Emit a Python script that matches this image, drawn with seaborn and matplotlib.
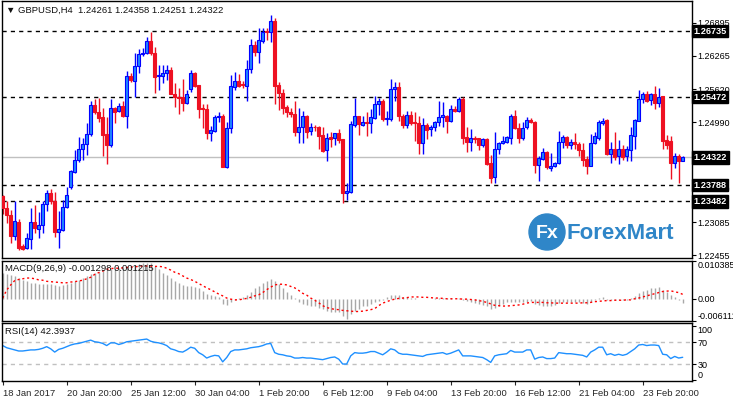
import matplotlib
matplotlib.use("Agg")
import numpy as np
import pandas as pd
import matplotlib.pyplot as plt
import matplotlib.transforms as mtransforms
from matplotlib.patches import Ellipse
import seaborn as sns

# GBPUSD H4 candles
opens = [
    1.2359, 1.2335, 1.2322, 1.2282, 1.2309, 1.2262, 1.2260, 1.2277, 1.2308, 1.2296,
    1.2303, 1.2343, 1.2364, 1.2348, 1.2290, 1.2293, 1.2337, 1.2376, 1.2405, 1.2427,
    1.2449, 1.2457, 1.2476, 1.2533, 1.2518, 1.2509, 1.2477, 1.2456, 1.2527, 1.2521,
    1.2530, 1.2512, 1.2588, 1.2579, 1.2607, 1.2629, 1.2631, 1.2654, 1.2631, 1.2587,
    1.2588, 1.2593, 1.2599, 1.2554, 1.2547, 1.2547, 1.2537, 1.2563, 1.2594, 1.2570,
    1.2526, 1.2525, 1.2478, 1.2482, 1.2509, 1.2511, 1.2414, 1.2488, 1.2567, 1.2578,
    1.2572, 1.2568, 1.2602, 1.2647, 1.2634, 1.2655, 1.2674, 1.2672, 1.2693, 1.2570,
    1.2556, 1.2529, 1.2519, 1.2516, 1.2481, 1.2490, 1.2511, 1.2483, 1.2491, 1.2491,
    1.2475, 1.2446, 1.2471, 1.2470, 1.2478, 1.2467, 1.2365, 1.2367, 1.2494, 1.2511,
    1.2494, 1.2500, 1.2497, 1.2508, 1.2535, 1.2540, 1.2506, 1.2506, 1.2562, 1.2566,
    1.2512, 1.2495, 1.2514, 1.2500, 1.2497, 1.2460, 1.2494, 1.2486, 1.2490, 1.2499,
    1.2510, 1.2512, 1.2502, 1.2525, 1.2520, 1.2543, 1.2472, 1.2462, 1.2470, 1.2469,
    1.2455, 1.2467, 1.2421, 1.2394, 1.2449, 1.2459, 1.2462, 1.2470, 1.2512, 1.2489,
    1.2470, 1.2490, 1.2504, 1.2500, 1.2417, 1.2430, 1.2442, 1.2411, 1.2415, 1.2421,
    1.2461, 1.2471, 1.2455, 1.2462, 1.2458, 1.2446, 1.2430, 1.2416, 1.2459, 1.2469,
    1.2498, 1.2504, 1.2439, 1.2448, 1.2434, 1.2448, 1.2434, 1.2446, 1.2474, 1.2502,
    1.2544, 1.2554, 1.2541, 1.2553, 1.2537, 1.2549, 1.2465, 1.2463, 1.2422, 1.2435,
    1.24261,
]
highs = [
    1.2360, 1.2348, 1.2332, 1.2348, 1.2314, 1.2266, 1.2288, 1.2335, 1.2341, 1.2327,
    1.2348, 1.2370, 1.2371, 1.2367, 1.2329, 1.2350, 1.2376, 1.2408, 1.2446, 1.2472,
    1.2470, 1.2497, 1.2540, 1.2543, 1.2545, 1.2526, 1.2510, 1.2543, 1.2529, 1.2537,
    1.2540, 1.2597, 1.2593, 1.2631, 1.2639, 1.2642, 1.2663, 1.2671, 1.2644, 1.2609,
    1.2609, 1.2609, 1.2604, 1.2575, 1.2564, 1.2582, 1.2561, 1.2599, 1.2595, 1.2571,
    1.2534, 1.2535, 1.2492, 1.2513, 1.2519, 1.2515, 1.2500, 1.2590, 1.2596, 1.2591,
    1.2579, 1.2619, 1.2658, 1.2655, 1.2679, 1.2679, 1.2679, 1.2704, 1.2698, 1.2577,
    1.2563, 1.2533, 1.2526, 1.2539, 1.2526, 1.2521, 1.2513, 1.2497, 1.2494, 1.2492,
    1.2490, 1.2478, 1.2481, 1.2479, 1.2486, 1.2468, 1.2384, 1.2502, 1.2546, 1.2512,
    1.2511, 1.2519, 1.2525, 1.2549, 1.2545, 1.2543, 1.2521, 1.2582, 1.2577, 1.2577,
    1.2516, 1.2521, 1.2521, 1.2519, 1.2511, 1.2507, 1.2498, 1.2494, 1.2502, 1.2540,
    1.2538, 1.2513, 1.2532, 1.2530, 1.2547, 1.2547, 1.2491, 1.2486, 1.2474, 1.2470,
    1.2470, 1.2469, 1.2437, 1.2480, 1.2462, 1.2473, 1.2473, 1.2516, 1.2523, 1.2497,
    1.2500, 1.2510, 1.2507, 1.2501, 1.2434, 1.2451, 1.2444, 1.2441, 1.2424, 1.2483,
    1.2475, 1.2473, 1.2467, 1.2479, 1.2462, 1.2459, 1.2434, 1.2477, 1.2480, 1.2504,
    1.2507, 1.2505, 1.2462, 1.2480, 1.2465, 1.2456, 1.2454, 1.2491, 1.2505, 1.2561,
    1.2558, 1.2559, 1.2556, 1.2568, 1.2565, 1.2550, 1.2475, 1.2473, 1.2440, 1.2439,
    1.24358,
]
lows = [
    1.2324, 1.2306, 1.2268, 1.2274, 1.2255, 1.2255, 1.2257, 1.2257, 1.2288, 1.2278,
    1.2288, 1.2329, 1.2344, 1.2281, 1.2260, 1.2292, 1.2335, 1.2371, 1.2402, 1.2424,
    1.2427, 1.2437, 1.2474, 1.2516, 1.2500, 1.2435, 1.2419, 1.2453, 1.2497, 1.2518,
    1.2509, 1.2489, 1.2577, 1.2547, 1.2593, 1.2625, 1.2629, 1.2628, 1.2556, 1.2561,
    1.2575, 1.2580, 1.2553, 1.2529, 1.2516, 1.2521, 1.2534, 1.2558, 1.2567, 1.2508,
    1.2489, 1.2467, 1.2464, 1.2481, 1.2500, 1.2413, 1.2411, 1.2478, 1.2561, 1.2567,
    1.2564, 1.2540, 1.2593, 1.2625, 1.2612, 1.2651, 1.2656, 1.2653, 1.2535, 1.2523,
    1.2516, 1.2510, 1.2510, 1.2473, 1.2459, 1.2459, 1.2470, 1.2475, 1.2483, 1.2449,
    1.2443, 1.2426, 1.2453, 1.2456, 1.2459, 1.2346, 1.2350, 1.2365, 1.2491, 1.2475,
    1.2492, 1.2474, 1.2479, 1.2506, 1.2513, 1.2501, 1.2495, 1.2501, 1.2540, 1.2502,
    1.2489, 1.2489, 1.2494, 1.2464, 1.2439, 1.2439, 1.2467, 1.2473, 1.2483, 1.2492,
    1.2490, 1.2479, 1.2500, 1.2519, 1.2518, 1.2458, 1.2443, 1.2445, 1.2460, 1.2446,
    1.2453, 1.2418, 1.2383, 1.2384, 1.2439, 1.2457, 1.2459, 1.2458, 1.2486, 1.2459,
    1.2465, 1.2487, 1.2497, 1.2402, 1.2388, 1.2428, 1.2410, 1.2407, 1.2413, 1.2420,
    1.2451, 1.2451, 1.2448, 1.2448, 1.2434, 1.2416, 1.2400, 1.2415, 1.2457, 1.2465,
    1.2494, 1.2436, 1.2421, 1.2428, 1.2420, 1.2428, 1.2426, 1.2426, 1.2448, 1.2501,
    1.2537, 1.2538, 1.2533, 1.2524, 1.2529, 1.2448, 1.2449, 1.2391, 1.2411, 1.2384,
    1.24251,
]
closes = [
    1.2335, 1.2322, 1.2282, 1.2311, 1.2260, 1.2258, 1.2278, 1.2308, 1.2297, 1.2303,
    1.2343, 1.2364, 1.2348, 1.2290, 1.2295, 1.2337, 1.2360, 1.2406, 1.2427, 1.2449,
    1.2458, 1.2476, 1.2533, 1.2518, 1.2507, 1.2475, 1.2456, 1.2526, 1.2519, 1.2530,
    1.2512, 1.2588, 1.2580, 1.2607, 1.2629, 1.2631, 1.2654, 1.2631, 1.2586, 1.2589,
    1.2593, 1.2599, 1.2554, 1.2547, 1.2545, 1.2537, 1.2553, 1.2594, 1.2568, 1.2525,
    1.2524, 1.2478, 1.2484, 1.2510, 1.2511, 1.2414, 1.2488, 1.2568, 1.2578, 1.2568,
    1.2570, 1.2602, 1.2647, 1.2634, 1.2656, 1.2672, 1.2671, 1.2693, 1.2569, 1.2556,
    1.2527, 1.2518, 1.2516, 1.2481, 1.2490, 1.2511, 1.2481, 1.2491, 1.2490, 1.2473,
    1.2444, 1.2470, 1.2468, 1.2478, 1.2465, 1.2365, 1.2368, 1.2496, 1.2511, 1.2496,
    1.2500, 1.2497, 1.2509, 1.2535, 1.2540, 1.2506, 1.2507, 1.2563, 1.2566, 1.2511,
    1.2494, 1.2514, 1.2497, 1.2497, 1.2460, 1.2494, 1.2484, 1.2491, 1.2499, 1.2509,
    1.2513, 1.2502, 1.2525, 1.2520, 1.2543, 1.2470, 1.2462, 1.2469, 1.2467, 1.2455,
    1.2467, 1.2420, 1.2393, 1.2449, 1.2459, 1.2463, 1.2471, 1.2511, 1.2488, 1.2470,
    1.2489, 1.2504, 1.2499, 1.2417, 1.2431, 1.2442, 1.2413, 1.2416, 1.2421, 1.2461,
    1.2471, 1.2456, 1.2462, 1.2457, 1.2446, 1.2428, 1.2416, 1.2460, 1.2473, 1.2500,
    1.2502, 1.2439, 1.2448, 1.2433, 1.2448, 1.2433, 1.2448, 1.2475, 1.2504, 1.2544,
    1.2554, 1.2540, 1.2553, 1.2537, 1.2547, 1.2464, 1.2456, 1.2422, 1.2435, 1.2426,
    1.24322,
]

macd_main = [
    0.0070, 0.0067, 0.0065, 0.0062, 0.0057, 0.0052, 0.0048, 0.0043, 0.0043, 0.0041,
    0.0041, 0.0041, 0.0040, 0.0038, 0.0036, 0.0038, 0.0040, 0.0043, 0.0048, 0.0052,
    0.0057, 0.0062, 0.0067, 0.0071, 0.0074, 0.0076, 0.0078, 0.0081, 0.0083, 0.0084,
    0.0084, 0.0088, 0.0091, 0.0093, 0.0095, 0.0097, 0.0098, 0.0097, 0.0091, 0.0081,
    0.0071, 0.0065, 0.0057, 0.0050, 0.0043, 0.0038, 0.0036, 0.0036, 0.0033, 0.0029,
    0.0021, 0.0014, 0.0010, 0.0008, 0.0006, -0.0014, -0.0017, -0.0010, -0.0003, 0.0002,
    0.0005, 0.0011, 0.0019, 0.0029, 0.0035, 0.0043, 0.0050, 0.0055, 0.0050, 0.0040,
    0.0030, 0.0019, 0.0010, 0.0002, -0.0010, -0.0014, -0.0017, -0.0019, -0.0021, -0.0024,
    -0.0029, -0.0033, -0.0035, -0.0036, -0.0036, -0.0048, -0.0055, -0.0043, -0.0033, -0.0027,
    -0.0021, -0.0019, -0.0014, -0.0010, -0.0005, -0.0003, 0.0005, 0.0010, 0.0011, 0.0010,
    0.0006, 0.0004, 0.0003, 0.0002, 0.0000, 0.0000, 0.0000, 0.0000, 0.0001, 0.0002,
    0.0003, 0.0002, 0.0001, 0.0000, 0.0002, -0.0002, -0.0006, -0.0010, -0.0011, -0.0014,
    -0.0017, -0.0019, -0.0027, -0.0024, -0.0019, -0.0014, -0.0010, -0.0008, -0.0008, -0.0010,
    -0.0010, -0.0008, -0.0006, -0.0014, -0.0017, -0.0019, -0.0019, -0.0019, -0.0017, -0.0011,
    -0.0010, -0.0010, -0.0010, -0.0010, -0.0010, -0.0011, -0.0014, -0.0008, -0.0002, 0.0002,
    0.0005, -0.0002, -0.0004, -0.0004, -0.0003, -0.0002, -0.0002, 0.0002, 0.0008, 0.0017,
    0.0021, 0.0024, 0.0029, 0.0030, 0.0032, 0.0024, 0.0019, 0.0011, 0.0005, -0.0002,
    -0.001298,
]
macd_signal = [
    0.0002, 0.0024, 0.0038, 0.0050, 0.0053, 0.0055, 0.0057, 0.0057, 0.0055, 0.0052,
    0.0051, 0.0048, 0.0047, 0.0046, 0.0045, 0.0044, 0.0044, 0.0046, 0.0047, 0.0049,
    0.0051, 0.0055, 0.0059, 0.0067, 0.0072, 0.0076, 0.0081, 0.0083, 0.0084, 0.0084,
    0.0085, 0.0086, 0.0087, 0.0088, 0.0089, 0.0090, 0.0090, 0.0090, 0.0089, 0.0089,
    0.0088, 0.0084, 0.0079, 0.0073, 0.0069, 0.0063, 0.0057, 0.0053, 0.0048, 0.0042,
    0.0036, 0.0030, 0.0025, 0.0019, 0.0013, 0.0008, 0.0002, -0.0001, -0.0003, -0.0003,
    -0.0001, 0.0001, 0.0004, 0.0008, 0.0011, 0.0017, 0.0025, 0.0032, 0.0038, 0.0040,
    0.0040, 0.0038, 0.0034, 0.0030, 0.0023, 0.0015, 0.0010, 0.0002, -0.0004, -0.0011,
    -0.0019, -0.0024, -0.0027, -0.0029, -0.0030, -0.0032, -0.0033, -0.0034, -0.0035, -0.0035,
    -0.0034, -0.0032, -0.0030, -0.0027, -0.0019, -0.0012, -0.0008, -0.0004, -0.0001, 0.0001,
    0.0002, 0.0003, 0.0005, 0.0005, 0.0005, 0.0004, 0.0004, 0.0003, 0.0002, 0.0002,
    0.0001, 0.0000, 0.0000, 0.0000, 0.0000, -0.0001, -0.0001, -0.0002, -0.0003, -0.0005,
    -0.0007, -0.0010, -0.0014, -0.0018, -0.0019, -0.0020, -0.0020, -0.0019, -0.0018, -0.0017,
    -0.0015, -0.0012, -0.0010, -0.0010, -0.0010, -0.0010, -0.0011, -0.0011, -0.0012, -0.0012,
    -0.0012, -0.0012, -0.0012, -0.0012, -0.0012, -0.0011, -0.0011, -0.0010, -0.0008, -0.0007,
    -0.0006, -0.0005, -0.0005, -0.0004, -0.0004, -0.0004, -0.0003, -0.0003, 0.0000, 0.0002,
    0.0005, 0.0008, 0.0011, 0.0014, 0.0017, 0.0020, 0.0021, 0.0022, 0.0019, 0.0017,
    0.001215,
]
rsi = [
    64, 60, 58, 56, 54, 54, 55, 56, 56, 57,
    59, 62, 58, 52, 57, 59, 62, 65, 67, 68,
    70, 72, 74, 71, 70, 68, 64, 69, 69, 66,
    68, 71, 72, 73, 74, 75, 76, 72, 70, 69,
    67, 64, 58, 56, 53, 52, 56, 61, 59, 51,
    47, 41, 44, 46, 45, 34, 42, 53, 56, 56,
    57, 58, 60, 61, 62, 64, 67, 68, 51, 48,
    47, 45, 44, 41, 41, 42, 41, 41, 40, 39,
    38, 40, 42, 43, 39, 30, 30, 45, 51, 50,
    50, 51, 53, 53, 50, 47, 52, 58, 56, 50,
    48, 48, 47, 46, 45, 44, 47, 48, 49, 50,
    51, 48, 50, 53, 56, 45, 45, 45, 44, 43,
    42, 38, 33, 45, 47, 48, 49, 55, 52, 52,
    52, 56, 56, 39, 42, 43, 40, 40, 41, 51,
    50, 49, 49, 48, 47, 46, 43, 52, 56, 61,
    61, 47, 49, 46, 48, 46, 48, 53, 58, 65,
    66, 64, 65, 65, 64, 48, 47, 40, 44, 41,
    42.3937,
]

date_labels = ["18 Jan 2017", "20 Jan 20:00", "25 Jan 12:00", "30 Jan 04:00",
               "1 Feb 20:00", "6 Feb 12:00", "9 Feb 04:00", "13 Feb 20:00",
               "16 Feb 12:00", "21 Feb 04:00", "23 Feb 20:00"]
bars_per_label = 16
level_lines = [1.26735, 1.25472, 1.23788, 1.23482]
last_price = 1.24322
price_ticks = [1.26895, 1.26265, 1.25620, 1.24990, 1.23720, 1.23085, 1.22455]

df = pd.DataFrame({"open": opens, "high": highs, "low": lows, "close": closes,
                   "macd": macd_main, "signal": macd_signal, "rsi": rsi})
df["bar"] = np.arange(len(df))
df["up"] = df["close"] >= df["open"]

sns.set_style("white")
plt.rcParams["font.family"] = ["Liberation Sans", "DejaVu Sans"]
plt.rcParams["font.size"] = 6.6

W, H = 733, 398
fig = plt.figure(figsize=(W / 100, H / 100), dpi=100)


def box(x0, y0, x1, y1):
    return [x0 / W, 1 - y1 / H, (x1 - x0) / W, (y1 - y0) / H]


ax = fig.add_axes(box(1.5, 1, 691.5, 258))
ax_m = fig.add_axes(box(1.5, 261, 691.5, 321))
ax_r = fig.add_axes(box(1.5, 323, 691.5, 381))

RED = "#ee1122"
BLUE_EDGE = "#0000ff"
BLUE_FILL = "#1e88ff"

# candles
for up, wick, face, edge in [(True, BLUE_EDGE, BLUE_FILL, BLUE_EDGE), (False, RED, RED, RED)]:
    d = df[df["up"] == up]
    ax.vlines(d["bar"], d["low"], d["high"], color=wick, lw=1)
    body = (d["close"] - d["open"]).abs().clip(lower=0.00005)
    ax.bar(d["bar"], body, bottom=d[["open", "close"]].min(axis=1), width=0.72,
           color=face, edgecolor=edge, linewidth=0.8, zorder=3)

for lvl in level_lines:
    ax.axhline(lvl, color="black", lw=1, ls=(0, (3, 3)), zorder=1)
ax.axhline(last_price, color="#c0c0c0", lw=1, zorder=1)

ax.set_xlim(-0.3, 172.2)
ax.set_ylim(1.2240, 1.2731)
ax.yaxis.tick_right()
ax.set_yticks(price_ticks)
ax.set_yticklabels([f"{t:.5f}" for t in price_ticks])
ax.set_xticks([])

trans = mtransforms.blended_transform_factory(ax.transAxes, ax.transData)
for lvl in level_lines + [last_price]:
    ax.text(1.003, lvl, f"{lvl:.5f}", transform=trans, va="center", ha="left",
            color="white", fontsize=6.6, fontweight="bold", clip_on=False, zorder=10,
            bbox=dict(boxstyle="square,pad=0.18", fc="black", ec="black"))

ax.text(0.006, 0.965, "\u25bc GBPUSD,H4  1.24261 1.24358 1.24251 1.24322",
        transform=ax.transAxes, va="center", ha="left", fontsize=6.8, color="#111111")

# ForexMart watermark
fig.add_artist(Ellipse((547 / W, 1 - 232 / H), 36 / W, 36 / H, transform=fig.transFigure,
                       color="#2f86c8", zorder=5))
fig.text(547 / W, 1 - 233 / H, "Fx", ha="center", va="center", color="white",
         fontsize=14, fontweight="bold", zorder=6)
fig.text(567 / W, 1 - 233 / H, "ForexMart", ha="left", va="center", color="#2f86c8",
         fontsize=16, fontweight="bold", zorder=6)

# MACD panel
ax_m.vlines(df["bar"], 0, df["macd"], color="#a8a8a8", lw=1)
sns.lineplot(x=df["bar"], y=df["signal"], ax=ax_m, color="red", lw=1,
             linestyle=(0, (1.5, 2)))
ax_m.set_xlim(-0.3, 172.2)
ax_m.set_ylim(-0.006111, 0.010385)
ax_m.yaxis.tick_right()
ax_m.set_yticks([0.010385, 0.0, -0.006111])
ax_m.set_yticklabels(["0.010385", "0.00", "-0.006111"])
ax_m.get_yticklabels()[0].set_va("top")
ax_m.get_yticklabels()[2].set_va("bottom")
ax_m.set_xticks([])
ax_m.set_xlabel("")
ax_m.set_ylabel("")
ax_m.text(0.005, 0.88, "MACD(9,26,9) -0.001298 0.001215", transform=ax_m.transAxes,
          va="center", ha="left", fontsize=6.8, color="#111111", zorder=5)

# RSI panel
for lvl in [70, 30]:
    ax_r.axhline(lvl, color="#c0c0c0", lw=1, ls=(0, (3, 3)))
sns.lineplot(x=df["bar"], y=df["rsi"], ax=ax_r, color="#1e90ff", lw=1)
ax_r.set_xlim(-0.3, 172.2)
ax_r.set_ylim(-1.3, 105.6)
ax_r.yaxis.tick_right()
ax_r.set_yticks([100, 70, 30, 0])
ax_r.set_yticklabels(["100", "70", "30", "0"])
ax_r.get_yticklabels()[0].set_va("top")
ax_r.get_yticklabels()[3].set_va("bottom")
ax_r.set_xticks(np.arange(len(date_labels)) * bars_per_label)
ax_r.set_xticklabels(date_labels, ha="left")
ax_r.set_xlabel("")
ax_r.set_ylabel("")
ax_r.text(0.005, 0.845, "RSI(14) 42.3937", transform=ax_r.transAxes,
          va="center", ha="left", fontsize=6.8, color="#111111")

for a in (ax, ax_m, ax_r):
    for s in a.spines.values():
        s.set_visible(True)
        s.set_color("black")
        s.set_linewidth(1)
    a.tick_params(axis="y", which="both", right=True, left=False, length=3, width=0.8,
                  pad=1.2, labelsize=6.5, colors="black")
    a.set_facecolor("white")
ax_r.tick_params(axis="x", bottom=True, length=3, width=0.8, pad=2.5, labelsize=6.8)

fig.savefig("out.png", dpi=100, facecolor="white")
